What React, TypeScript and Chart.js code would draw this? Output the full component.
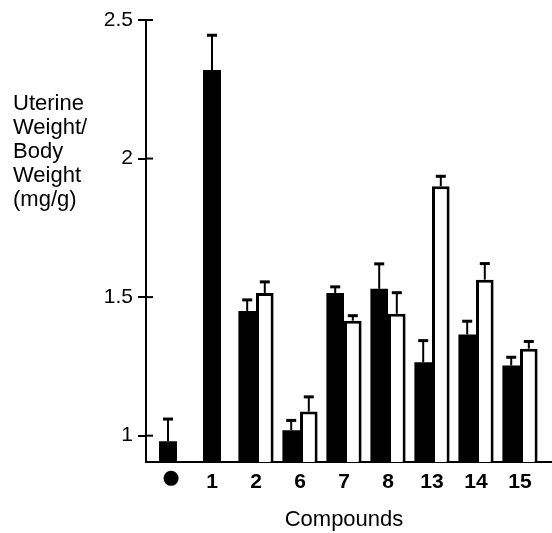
import React, { useEffect, useRef } from "react";
import { Chart, registerables } from "chart.js";

Chart.register(...registerables);

const FONT = "'Liberation Sans', Arial, Helvetica, sans-serif";

const categories = ["●", "1", "2", "6", "7", "8", "13", "14", "15"];
const singleValues = [0.98, 2.32, null, null, null, null, null, null, null];
const singleErrors = [0.08, 0.125, null, null, null, null, null, null, null];
const blackValues = [null, null, 1.45, 1.02, 1.515, 1.53, 1.265, 1.365, 1.253];
const blackErrors = [null, null, 0.04, 0.035, 0.022, 0.09, 0.078, 0.048, 0.03];
const whiteValues = [null, null, 1.515, 1.087, 1.415, 1.44, 1.9, 1.563, 1.314];
const whiteErrors = [null, null, 0.04, 0.053, 0.018, 0.076, 0.036, 0.058, 0.026];
const yTicks = [1, 1.5, 2, 2.5];
const yMin = 0.905;
const yMax = 2.5;
const yTitleLines = ["Uterine", "Weight/", "Body", "Weight", "(mg/g)"];
const xTitle = "Compounds";

const errorBarPlugin = {
  id: "errorBars",
  afterDatasetsDraw(chart: any) {
    const ctx = chart.ctx;
    const y = chart.scales.y;
    const errs = [singleErrors, blackErrors, whiteErrors];
    chart.data.datasets.forEach((ds: any, di: number) => {
      const meta = chart.getDatasetMeta(di);
      meta.data.forEach((bar: any, i: number) => {
        const v = ds.data[i];
        const e = errs[di][i];
        if (v == null || e == null) return;
        const top = y.getPixelForValue(v + e);
        ctx.save();
        ctx.strokeStyle = "#000";
        ctx.lineWidth = 2;
        ctx.beginPath();
        ctx.moveTo(bar.x, bar.y);
        ctx.lineTo(bar.x, top);
        ctx.stroke();
        ctx.lineWidth = 3;
        ctx.beginPath();
        ctx.moveTo(bar.x - 5, top);
        ctx.lineTo(bar.x + 5, top);
        ctx.stroke();
        ctx.restore();
      });
    });
  },
};

const axisExtrasPlugin = {
  id: "axisExtras",
  afterDraw(chart: any) {
    const ctx = chart.ctx;
    const { left, right, bottom } = chart.chartArea;
    const y = chart.scales.y;
    const x = chart.scales.x;
    ctx.save();
    ctx.strokeStyle = "#000";
    ctx.lineWidth = 2;
    yTicks.forEach((t) => {
      const py = y.getPixelForValue(t);
      ctx.beginPath();
      ctx.moveTo(left, py);
      ctx.lineTo(left + 7, py);
      ctx.stroke();
    });
    ctx.beginPath();
    ctx.moveTo(right - 1, bottom);
    ctx.lineTo(chart.width, bottom);
    ctx.stroke();
    // first category label (a filled circle symbol) drawn larger than the numeric labels
    ctx.fillStyle = "#000";
    ctx.font = `35px ${FONT}`;
    ctx.textAlign = "center";
    ctx.textBaseline = "top";
    ctx.fillText(categories[0], x.getPixelForValue(0) + 3, bottom - 1.5);
    ctx.restore();
  },
};

function BarChart() {
  const ref = useRef<HTMLCanvasElement | null>(null);
  useEffect(() => {
    if (!ref.current) return;
    const chart = new Chart(ref.current, {
      type: "bar",
      data: {
        labels: categories,
        datasets: [
          {
            label: "single",
            data: singleValues,
            backgroundColor: "#000",
            borderWidth: 0,
            grouped: false,
            maxBarThickness: 18,
          } as any,
          {
            label: "dose A",
            data: blackValues,
            backgroundColor: "#000",
            borderWidth: 0,
          },
          {
            label: "dose B",
            data: whiteValues,
            backgroundColor: "#fff",
            borderColor: "#000",
            borderWidth: 3,
          },
        ],
      },
      plugins: [errorBarPlugin, axisExtrasPlugin],
      options: {
        animation: false,
        responsive: false,
        events: [],
        layout: { padding: { left: 0, right: 10, top: 20, bottom: 0 } },
        datasets: {
          bar: { categoryPercentage: 0.8, barPercentage: 1 },
        },
        plugins: {
          legend: { display: false },
          tooltip: { enabled: false },
        },
        scales: {
          x: {
            grid: { display: false, drawTicks: false },
            border: { display: true, color: "#000", width: 2 },
            ticks: {
              color: (c: any) => (c.index === 0 ? "rgba(0,0,0,0)" : "#000"),
              padding: 8,
              font: { family: FONT, size: 21, weight: "bold" },
            },
            title: {
              display: true,
              text: xTitle,
              color: "#000",
              font: { family: FONT, size: 22 },
              padding: { top: 0, bottom: 0 },
            },
            afterFit(scale: any) {
              scale.height = 71;
            },
          },
          y: {
            min: yMin,
            max: yMax,
            grid: {
              drawOnChartArea: false,
              drawTicks: true,
              tickLength: 8,
              color: "#000",
              lineWidth: 2,
            },
            border: { display: true, color: "#000", width: 2 },
            ticks: {
              color: "#000",
              padding: 5,
              font: { family: FONT, size: 21 },
              callback: (v: any) => String(v),
            },
            afterBuildTicks(scale: any) {
              scale.ticks = yTicks.map((v) => ({ value: v }));
            },
            afterFit(scale: any) {
              scale.width = 146;
            },
          },
        },
      },
    });
    return () => chart.destroy();
  }, []);
  return <canvas ref={ref} width={552} height={533} style={{ display: "block" }} />;
}

export default function App() {
  return (
    <div style={{ position: "absolute", left: 0, top: 0, width: 552, height: 533, background: "#fff" }}>
      <BarChart />
      <div
        style={{
          position: "absolute",
          left: 13,
          top: 91,
          fontFamily: FONT,
          fontSize: 22,
          lineHeight: "24px",
          color: "#000",
        }}
      >
        {yTitleLines.map((l, i) => (
          <div key={i}>{l}</div>
        ))}
      </div>
    </div>
  );
}
